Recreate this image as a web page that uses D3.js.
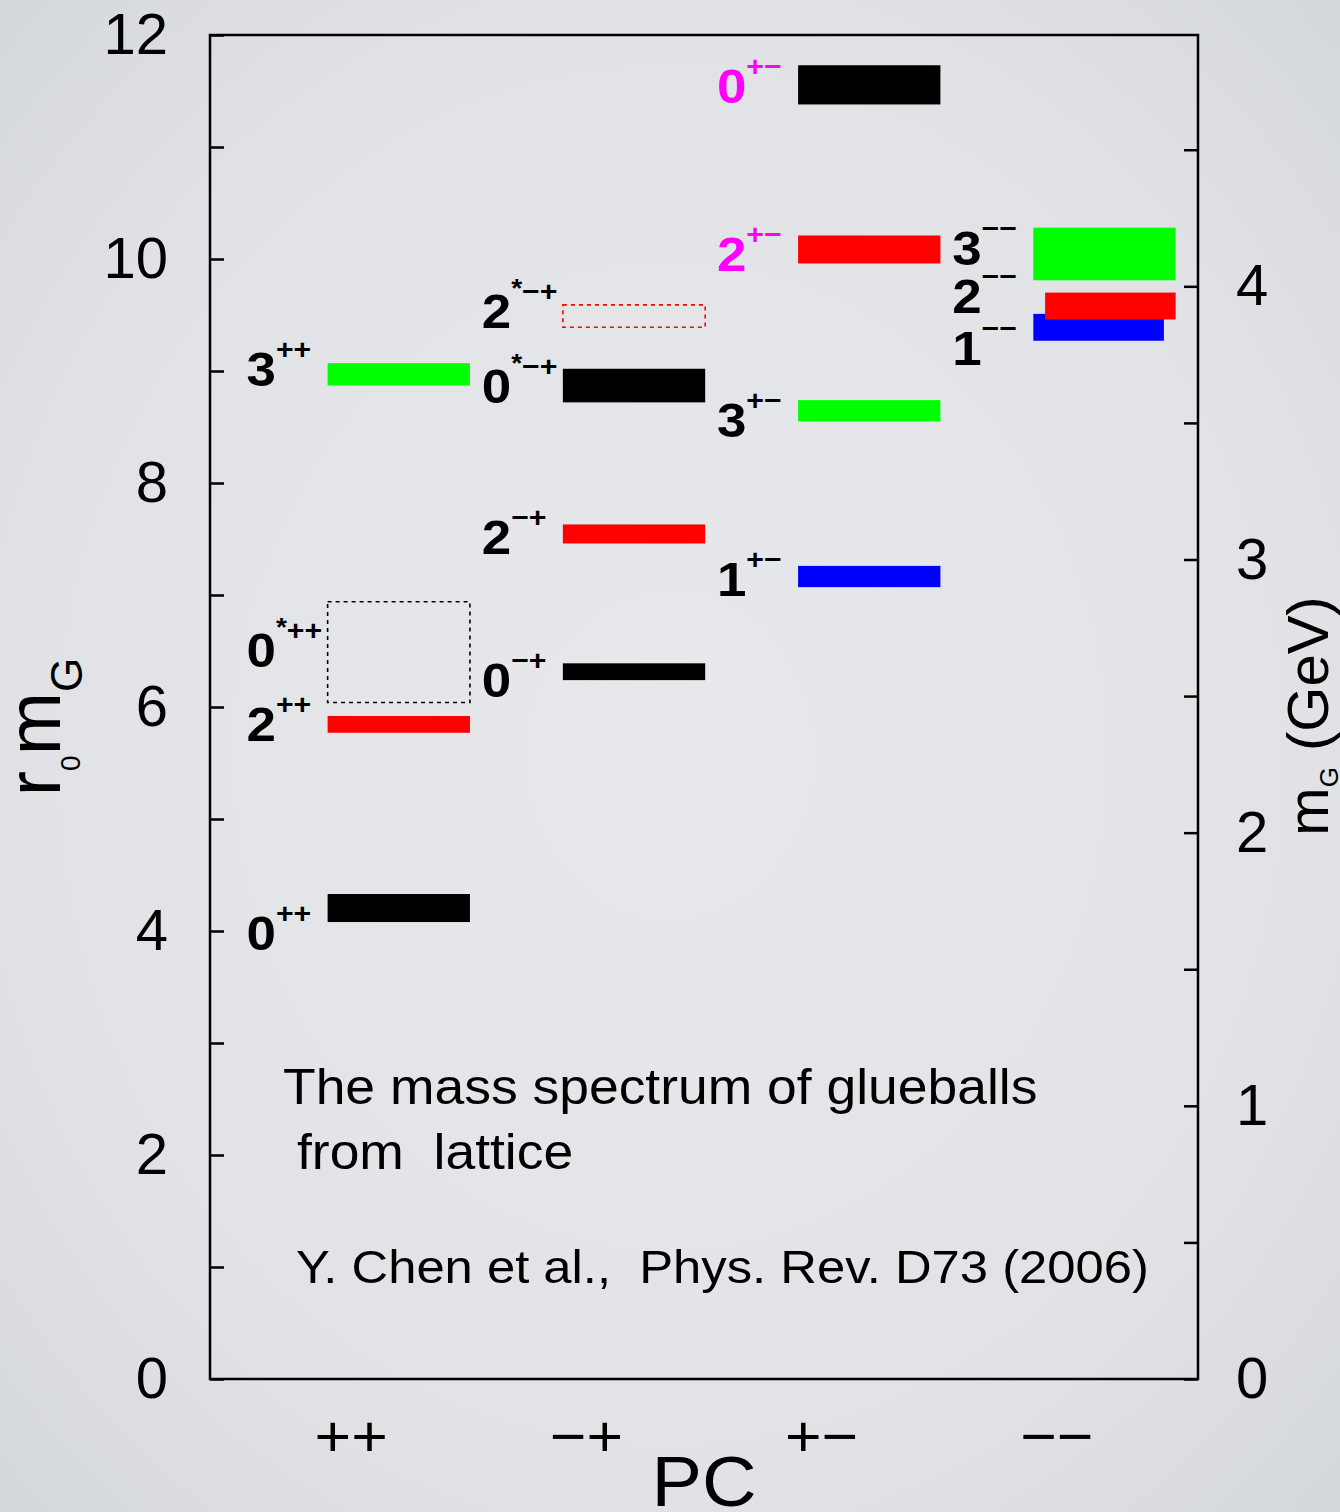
<!DOCTYPE html>
<html>
<head>
<meta charset="utf-8">
<style>
  html, body { margin: 0; padding: 0; background: #e2e4e8; }
  svg text { font-family: "Liberation Sans", Arial, Helvetica, sans-serif; }
</style>
</head>
<body>
<div id="chart"></div>
<script src="https://d3js.org/d3.v7.min.js"></script>
<script>
  // PC channels along the bottom
  const pcLabels = ["++", "\u2212+", "+\u2212", "\u2212\u2212"];

  // one entry per glueball state
  const stateJ = [0, 2, 0, 3, 0, 2, 0, 2, 1, 3, 2, 0, 1, 2, 3];
  const statePC = [0, 0, 0, 0, 1, 1, 1, 1, 2, 2, 2, 2, 3, 3, 3];
  const excited = [false, false, true, false, false, false, true, true, false, false, false, false, false, false, false];
  const outlined = [false, false, true, false, false, false, false, true, false, false, false, false, false, false, false];
  const exotic = [false, false, false, false, false, false, false, false, false, false, true, true, false, false, false];
  const massLow = [4.08, 5.77, 6.04, 8.87, 6.24, 7.46, 8.72, 9.39, 7.07, 8.55, 9.96, 11.38, 9.27, 9.46, 9.81];
  const massHigh = [4.33, 5.92, 6.94, 9.07, 6.39, 7.63, 9.02, 9.59, 7.26, 8.74, 10.21, 11.73, 9.51, 9.7, 10.28];
  const labelMass = [3.83, 5.7, 6.36, 8.87, 6.09, 7.37, 8.71, 9.38, 6.99, 8.41, 9.89, 11.39, 9.05, 9.52, 9.95];

  const leftTicks = [0, 1, 2, 3, 4, 5, 6, 7, 8, 9, 10, 11, 12];
  const rightTicks = [0, 0.5, 1, 1.5, 2, 2.5, 3, 3.5, 4, 4.5];
  const invR0 = 0.41; // GeV

  const width = 1340, height = 1512;
  const margin = { left: 210, right: 142, top: 35, bottom: 133 };
  const SX = 1.08; // text looks a bit wide in the original

  const jColor = { 0: "#000000", 1: "#0000ff", 2: "#ff0000", 3: "#00ff00" };

  const svg = d3.select("#chart").append("svg")
    .attr("width", width)
    .attr("height", height);

  const defs = svg.append("defs");
  const grad = defs.append("radialGradient").attr("id", "bg")
    .attr("cx", "50%").attr("cy", "50%").attr("r", "75%");
  grad.append("stop").attr("offset", "0%").attr("stop-color", "#e8e9ec");
  grad.append("stop").attr("offset", "65%").attr("stop-color", "#e0e2e6");
  grad.append("stop").attr("offset", "100%").attr("stop-color", "#d2d5da");
  svg.append("rect").attr("width", width).attr("height", height).attr("fill", "url(#bg)");

  const x = d3.scaleLinear().domain([0, 4.2]).range([margin.left, width - margin.right]);
  const y = d3.scaleLinear().domain([0, 12]).range([height - margin.bottom, margin.top]);
  const yG = d3.scaleLinear().domain([0, 12 * invR0]).range([height - margin.bottom, margin.top]);

  // axes: ticks point inward
  const leftAxis = svg.append("g")
    .attr("transform", `translate(${margin.left},0)`)
    .call(d3.axisLeft(y).tickValues(leftTicks).tickSize(-14).tickPadding(42)
      .tickFormat(d => d % 2 === 0 ? d : ""));
  const rightAxis = svg.append("g")
    .attr("transform", `translate(${width - margin.right},0)`)
    .call(d3.axisRight(yG).tickValues(rightTicks).tickSize(-14).tickPadding(38)
      .tickFormat(d => Number.isInteger(d) ? d : ""));
  [leftAxis, rightAxis].forEach(a => {
    a.select(".domain").remove();
    a.selectAll(".tick line").attr("stroke", "#000").attr("stroke-width", 2.5);
    a.selectAll(".tick text").attr("font-size", 58).attr("fill", "#000")
      .attr("font-family", "\"Liberation Sans\", Arial, sans-serif");
  });

  // frame
  svg.append("rect")
    .attr("x", x(0)).attr("y", y(12))
    .attr("width", x(4.2) - x(0)).attr("height", y(0) - y(12))
    .attr("fill", "none").attr("stroke", "#000").attr("stroke-width", 2.5);

  // bars
  const idx = d3.range(stateJ.length);
  const nudge = i => {
    // in the -- channel the 2 and 1 boxes are a little shifted so they overlap
    if (statePC[i] === 3 && stateJ[i] === 2) return [0.05, 0];
    if (statePC[i] === 3 && stateJ[i] === 1) return [0, -0.05];
    return [0, 0];
  };
  svg.append("g").selectAll("rect")
    .data(idx)
    .join("rect")
    .attr("x", i => x(statePC[i] + 0.5 + nudge(i)[0]))
    .attr("width", i => x(statePC[i] + 1.105 + nudge(i)[1]) - x(statePC[i] + 0.5 + nudge(i)[0]))
    .attr("y", i => y(massHigh[i]))
    .attr("height", i => y(massLow[i]) - y(massHigh[i]))
    .attr("fill", i => outlined[i] ? "none" : jColor[stateJ[i]])
    .attr("stroke", i => outlined[i] ? jColor[stateJ[i]] : "none")
    .attr("stroke-width", 1.6)
    .attr("stroke-dasharray", i => outlined[i] ? "4,4" : null);

  // state labels
  const labels = svg.append("g").selectAll("text")
    .data(idx)
    .join("text")
    .attr("transform", i => `translate(${x(statePC[i] + 0.155)},${y(labelMass[i])}) scale(${SX},1)`)
    .attr("font-weight", "bold")
    .attr("fill", i => exotic[i] ? "#ff00ff" : "#000");
  labels.append("tspan").attr("font-size", 49).text(i => stateJ[i]);
  labels.filter(i => excited[i]).append("tspan")
    .attr("font-size", 26).attr("dy", -31).text("*");
  labels.append("tspan")
    .attr("font-size", 28)
    .attr("dy", i => excited[i] ? 4 : -27)
    .text(i => pcLabels[statePC[i]]);

  // PC category labels
  svg.append("g").selectAll("text")
    .data(pcLabels)
    .join("text")
    .attr("transform", (d, i) => `translate(${x(i + 0.6)},1456) scale(${SX},1)`)
    .attr("text-anchor", "middle")
    .attr("font-size", 58)
    .text(d => d);

  svg.append("text")
    .attr("transform", `translate(${(x(0) + x(4.2)) / 2},1506) scale(${SX},1)`)
    .attr("text-anchor", "middle")
    .attr("font-size", 70)
    .text("PC");

  // left title r0 mG
  const lt = svg.append("text")
    .attr("transform", "translate(60,727) rotate(-90)")
    .attr("text-anchor", "middle")
    .attr("font-size", 76);
  lt.append("tspan").text("r");
  lt.append("tspan").attr("font-size", 28).attr("dy", 20).text("0");
  lt.append("tspan").attr("dy", -20).text("m");
  lt.append("tspan").attr("font-size", 44).attr("dy", 22).text("G");

  // right title mG (GeV)
  const rt = svg.append("text")
    .attr("transform", "translate(1328,716) rotate(-90)")
    .attr("text-anchor", "middle")
    .attr("font-size", 58);
  rt.append("tspan").text("m");
  rt.append("tspan").attr("font-size", 26).attr("dy", 10).text("G");
  rt.append("tspan").attr("dy", -10).text(" (GeV)");

  // annotation
  const note = [
    { text: "The mass spectrum of glueballs", x: 283, y: 1104, size: 49.5 },
    { text: "from  lattice", x: 297, y: 1169, size: 49.5 },
    { text: "Y. Chen et al.,  Phys. Rev. D73 (2006)", x: 296, y: 1283, size: 47 }
  ];
  svg.append("g").selectAll("text")
    .data(note)
    .join("text")
    .attr("transform", d => `translate(${d.x},${d.y}) scale(${SX},1)`)
    .attr("font-size", d => d.size)
    .attr("xml:space", "preserve")
    .style("white-space", "pre")
    .text(d => d.text);
</script>
</body>
</html>
